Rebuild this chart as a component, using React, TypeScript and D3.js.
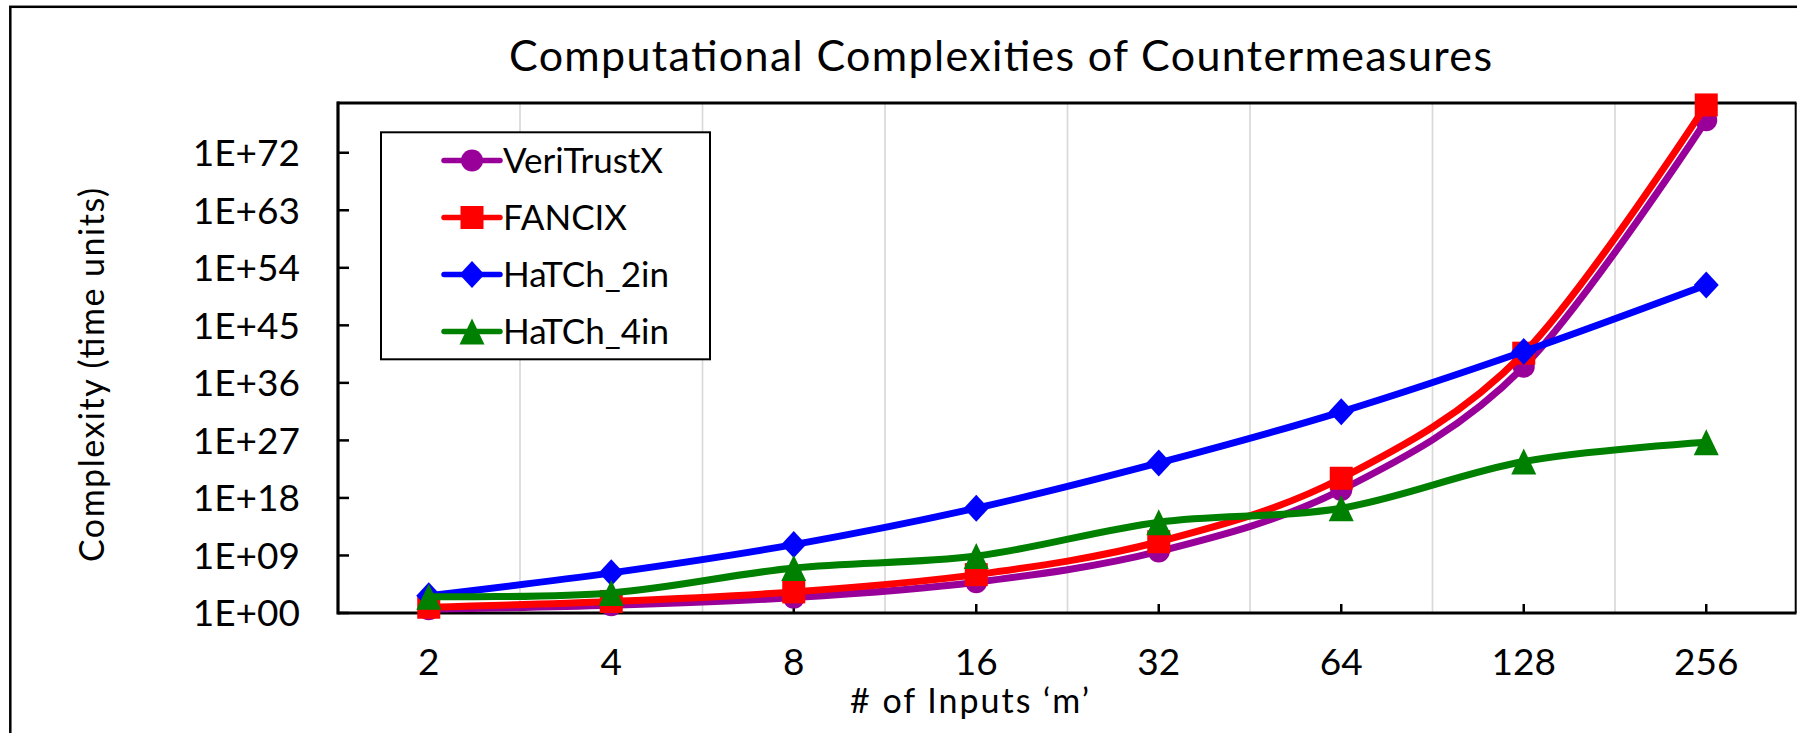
import React from 'react';
import * as d3 from 'd3';

// ---- data ----
const categories = ['2', '4', '8', '16', '32', '64', '128', '256'];
const veriTrustX = [4, 16, 256, 65536, 4.3e9, 1.8e19, 3.4e38, 1.2e77];
const fancix = [8, 64, 2000, 1.0e6, 1.4e11, 1.2e21, 4.4e40, 3.0e79];
const hatch2in = [5e2, 1.9e6, 5e10, 2.5e16, 3e23, 3e31, 8e40, 2e51];
const hatch4in = [3.5e2, 1.4e3, 1.1e7, 8e8, 1.6e14, 2.5e16, 5e23, 5e26];
const seriesNames = ['VeriTrustX', 'FANCIX', 'HaTCh_2in', 'HaTCh_4in'];
const yTicks = [1e0, 1e9, 1e18, 1e27, 1e36, 1e45, 1e54, 1e63, 1e72];

const W = 1797;
const H = 733;
const FONT = "Lato, 'Open Sans', sans-serif";

const colors = ['#990099', '#FF0000', '#0000FF', '#008000'];
const markerTypes = ['circle', 'square', 'diamond', 'triangle'];

function Marker({ type, x, y, color }: { type: string; x: number; y: number; color: string }) {
  if (type === 'circle') return <circle cx={x} cy={y} r={11} fill={color} />;
  if (type === 'square') return <rect x={x - 11.5} y={y - 11.5} width={23} height={23} fill={color} />;
  if (type === 'diamond')
    return <path transform={`translate(${x},${y})`} d="M0,-13.5L12.5,0L0,13.5L-12.5,0Z" fill={color} />;
  return <path transform={`translate(${x},${y})`} d="M0,-13L12.5,13L-12.5,13Z" fill={color} />;
}

function fmtExp(v: number) {
  const e = Math.round(Math.log10(v));
  return '1E+' + (e < 10 ? '0' + e : String(e));
}

export default function App() {
  const left = 337.5;
  const right = 1797.5;
  const top = 103;
  const bottom = 613;

  const x = d3.scaleBand<string>().domain(categories).range([left, right]).padding(0);
  const cx = (c: string) => (x(c) as number) + x.bandwidth() / 2;
  const y = d3.scaleLog().domain([1, 1e80]).range([bottom, 101.6]);

  const series = [veriTrustX, fancix, hatch2in, hatch4in];
  const line = d3
    .line<number>()
    .x((_, i) => cx(categories[i]))
    .y((d) => y(d))
    .curve(d3.curveCatmullRom.alpha(0));

  const legendX = 381;
  const legendY = 132.3;
  const legendW = 329;
  const legendH = 227;
  const rowY = (i: number) => 160.5 + i * 57;

  return (
    <svg
      width={W}
      height={H}
      style={{ position: 'absolute', left: 0, top: 0, display: 'block' }}
      fontFamily={FONT}
    >
      <rect x={0} y={0} width={W} height={H} fill="#fff" />
      {/* outer chart frame */}
      <rect x={10.3} y={6.8} width={2200} height={1200} fill="none" stroke="#000" strokeWidth={2.5} />

      {/* title */}
      <text x={1000.5} y={70.7} fontSize={43} textAnchor="middle" textLength={983} lengthAdjust="spacing" fill="#000">
        Computational Complexities of Countermeasures
      </text>

      {/* vertical gridlines at category boundaries */}
      {categories.slice(1).map((c) => (
        <line key={'g' + c} x1={x(c)} x2={x(c)} y1={top} y2={bottom} stroke="#D9D9D9" strokeWidth={1.7} />
      ))}

      {/* plot border top/right */}
      <line x1={left} x2={1796.5} y1={top} y2={top} stroke="#000" strokeWidth={3} />
      <line x1={1795.7} x2={1795.7} y1={top} y2={bottom} stroke="#000" strokeWidth={2} />

      {/* axes */}
      <line x1={338} x2={338} y1={top - 1.5} y2={bottom + 1.5} stroke="#000" strokeWidth={3.2} />
      <line x1={338} x2={1796.5} y1={bottom} y2={bottom} stroke="#000" strokeWidth={3.2} />
      {yTicks.map((t) => (
        <g key={'yt' + t}>
          <line x1={338} x2={349} y1={y(t)} y2={y(t)} stroke="#000" strokeWidth={2.5} />
          <text x={300} y={y(t)} dy="0.36em" fontSize={37} textAnchor="end" fill="#000">
            {fmtExp(t)}
          </text>
        </g>
      ))}
      {categories.map((c) => (
        <g key={'xt' + c}>
          <line x1={cx(c)} x2={cx(c)} y1={bottom} y2={bottom - 9} stroke="#000" strokeWidth={2.5} />
          <text x={cx(c)} y={675} fontSize={37} textAnchor="middle" fill="#000">
            {c}
          </text>
        </g>
      ))}

      {/* axis titles */}
      <text x={969.5} y={713} fontSize={34} textAnchor="middle" textLength={239} lengthAdjust="spacing" fill="#000">
        # of Inputs ‘m’
      </text>
      <text
        transform={`translate(104,375) rotate(-90)`}
        fontSize={34}
        textAnchor="middle"
        textLength={374}
        lengthAdjust="spacing"
        fill="#000"
      >
        Complexity (time units)
      </text>

      {/* series */}
      {series.map((s, si) => (
        <g key={'s' + si}>
          <path d={line(s) as string} fill="none" stroke={colors[si]} strokeWidth={7} strokeLinecap="round" strokeLinejoin="round" />
          {s.map((v, i) => (
            <Marker key={i} type={markerTypes[si]} x={cx(categories[i])} y={y(v)} color={colors[si]} />
          ))}
        </g>
      ))}

      {/* legend */}
      <rect x={legendX} y={legendY} width={legendW} height={legendH} fill="#fff" stroke="#000" strokeWidth={2} />
      {seriesNames.map((n, i) => (
        <g key={'l' + n}>
          <line x1={444} x2={500} y1={rowY(i)} y2={rowY(i)} stroke={colors[i]} strokeWidth={5.5} strokeLinecap="round" />
          <Marker type={markerTypes[i]} x={472} y={rowY(i)} color={colors[i]} />
          <text x={503} y={rowY(i) + 12} fontSize={35} fill="#000">
            {n}
          </text>
        </g>
      ))}
    </svg>
  );
}
